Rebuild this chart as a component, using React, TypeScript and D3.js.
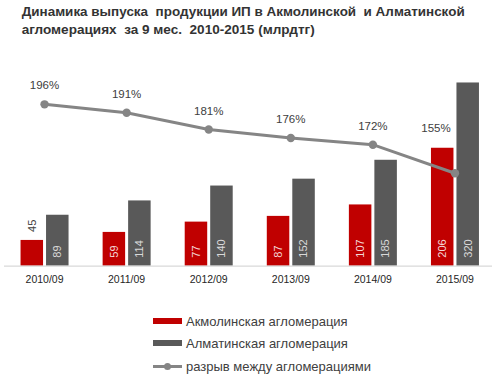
import React from 'react';
import * as d3 from 'd3';

const years = ['2010/09', '2011/09', '2012/09', '2013/09', '2014/09', '2015/09'];
const akmola = [45, 59, 77, 87, 107, 206];
const almaty = [89, 114, 140, 152, 185, 320];
const gapPct = [196, 191, 181, 176, 172, 155];
const seriesNames = ['Акмолинская агломерация', 'Алматинская агломерация', 'разрыв между агломерациями'];
const titleLines = ['Динамика выпуска  продукции ИП в Акмолинской  и Алматинской', 'агломерациях  за 9 мес.  2010-2015 (млрдтг)'];

const W = 500;
const H = 389;
const RED = '#c00000';
const GRAY = '#595959';
const LINE = '#858585';
const TEXT = '#404040';
const FONT = '"Liberation Sans", Arial, sans-serif';

export default function App() {
  const ref = React.useRef<SVGSVGElement>(null);

  React.useEffect(() => {
    if (!ref.current) return;
    const svg = d3.select(ref.current);
    svg.selectAll('*').remove();

    const x = d3.scaleBand<string>().domain(years).range([3.5, 496]).padding(0);
    const inner = d3.scaleBand<string>().domain(['a', 'b']).range([-24, 24]).paddingInner(3 / 25.5);
    const y = d3.scaleLinear().domain([0, 350]).range([265.7, 65.3]);
    const yPct = d3.scaleLinear().domain([150, 200]).range([181.7, 97.6]);
    const cx = (d: string) => (x(d) || 0) + x.bandwidth() / 2;

    // title
    const title = svg.append('g').attr('font-family', FONT).attr('fill', '#333').attr('font-weight', 'bold').attr('font-size', 12.5);
    title.append('text').attr('x', 21.7).attr('y', 16).attr('textLength', 443).attr('lengthAdjust', 'spacingAndGlyphs')
      .style('white-space', 'pre').text(titleLines[0]);
    title.append('text').attr('x', 21.7).attr('y', 34).attr('textLength', 293).attr('lengthAdjust', 'spacingAndGlyphs')
      .style('white-space', 'pre').text(titleLines[1]);

    // bars
    const groups = svg.append('g').selectAll('g').data(years).join('g')
      .attr('transform', d => `translate(${cx(d)},0)`);

    const bars: { key: string; vals: number[]; color: string; labelColor: string }[] = [
      { key: 'a', vals: akmola, color: RED, labelColor: '#f4d6d6' },
      { key: 'b', vals: almaty, color: GRAY, labelColor: '#d9d9d9' },
    ];

    bars.forEach(s => {
      groups.append('rect')
        .attr('x', inner(s.key) || 0)
        .attr('width', inner.bandwidth())
        .attr('y', (_, i) => y(s.vals[i]))
        .attr('height', (_, i) => y(0) - y(s.vals[i]))
        .attr('fill', s.color);

      groups.append('text')
        .attr('transform', (_, i) => {
          const h = y(0) - y(s.vals[i]);
          const by = h < 30 ? y(s.vals[i]) - 8 : y(0) - 8;
          return `translate(${(inner(s.key) || 0) + inner.bandwidth() / 2},${by}) rotate(-90)`;
        })
        .attr('dy', '0.35em')
        .attr('font-family', FONT)
        .attr('font-size', 11)
        .attr('fill', (_, i) => (y(0) - y(s.vals[i]) < 30 ? TEXT : s.labelColor))
        .text((_, i) => s.vals[i]);
    });

    // axis
    svg.append('line').attr('x1', 4).attr('x2', 492).attr('y1', y(0) + 0.5).attr('y2', y(0) + 0.5)
      .attr('stroke', '#d9d9d9').attr('stroke-width', 1.2);

    const xAxis = svg.append('g').attr('transform', `translate(0,${y(0)})`)
      .call(d3.axisBottom(x).tickSize(0).tickPadding(10));
    xAxis.select('.domain').remove();
    xAxis.selectAll('text').attr('font-family', FONT).attr('font-size', 10.5).attr('fill', '#262626');

    // line
    const lineGen = d3.line<number>().x((_, i) => cx(years[i])).y(d => yPct(d));
    svg.append('path').datum(gapPct).attr('d', lineGen).attr('fill', 'none')
      .attr('stroke', LINE).attr('stroke-width', 3);
    svg.append('g').selectAll('circle').data(gapPct).join('circle')
      .attr('cx', (_, i) => cx(years[i])).attr('cy', d => yPct(d)).attr('r', 4.2).attr('fill', LINE);

    svg.append('g').selectAll('text').data(gapPct).join('text')
      .attr('x', (_, i) => cx(years[i]) + (i === gapPct.length - 1 ? -19 : 0))
      .attr('y', (d, i) => yPct(d) - (i === gapPct.length - 1 ? 41 : 15))
      .attr('text-anchor', 'middle')
      .attr('font-family', FONT).attr('font-size', 11.5).attr('fill', TEXT)
      .text(d => `${d}%`);

    // legend
    const legend = svg.append('g').attr('font-family', FONT).attr('font-size', 13).attr('fill', TEXT);
    const ly = [321, 343, 366.5];
    legend.append('rect').attr('x', 153).attr('y', ly[0] - 3).attr('width', 29).attr('height', 6).attr('fill', RED);
    legend.append('rect').attr('x', 153).attr('y', ly[1] - 3).attr('width', 29).attr('height', 6).attr('fill', GRAY);
    legend.append('line').attr('x1', 153).attr('x2', 182).attr('y1', ly[2]).attr('y2', ly[2])
      .attr('stroke', LINE).attr('stroke-width', 3);
    legend.append('circle').attr('cx', 167.5).attr('cy', ly[2]).attr('r', 3.5).attr('fill', LINE);
    seriesNames.forEach((n, i) => {
      legend.append('text').attr('x', 186).attr('y', ly[i]).attr('dy', '0.35em').text(n);
    });
  }, []);

  return (
    <svg ref={ref} width={W} height={H} viewBox={`0 0 ${W} ${H}`}
      style={{ position: 'absolute', left: 0, top: 0, background: '#fff' }} />
  );
}
